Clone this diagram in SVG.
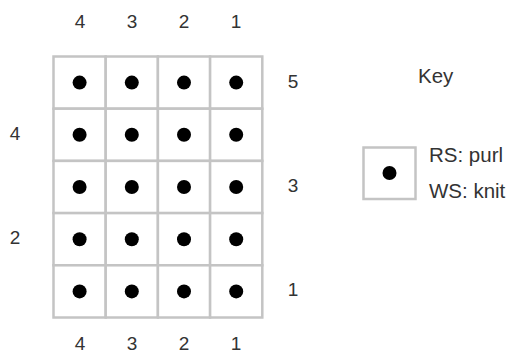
<svg xmlns="http://www.w3.org/2000/svg" width="511" height="356" viewBox="0 0 511 356">
<style>
.cell{fill:#fff;stroke:#c4c4c4;stroke-width:2.5}
.dot{fill:#000}
.t{font-family:"Liberation Sans",Arial,sans-serif;font-size:19px;fill:#333}
.k{font-size:20.5px}
.c{text-anchor:middle}
</style>
<defs>
<g id="st"><rect class="cell" x="0" y="0" width="52.2" height="52.2"/><circle class="dot" cx="26.1" cy="26.1" r="7"/></g>
</defs>
<rect width="511" height="356" fill="#fff"/>
<g id="chart">
<use href="#st" x="53.5" y="56.5"/><use href="#st" x="105.7" y="56.5"/><use href="#st" x="157.9" y="56.5"/><use href="#st" x="210.1" y="56.5"/>
<use href="#st" x="53.5" y="108.7"/><use href="#st" x="105.7" y="108.7"/><use href="#st" x="157.9" y="108.7"/><use href="#st" x="210.1" y="108.7"/>
<use href="#st" x="53.5" y="160.9"/><use href="#st" x="105.7" y="160.9"/><use href="#st" x="157.9" y="160.9"/><use href="#st" x="210.1" y="160.9"/>
<use href="#st" x="53.5" y="213.1"/><use href="#st" x="105.7" y="213.1"/><use href="#st" x="157.9" y="213.1"/><use href="#st" x="210.1" y="213.1"/>
<use href="#st" x="53.5" y="265.3"/><use href="#st" x="105.7" y="265.3"/><use href="#st" x="157.9" y="265.3"/><use href="#st" x="210.1" y="265.3"/>
</g>
<g id="top-labels" class="t c">
<text x="80" y="28">4</text><text x="132" y="28">3</text><text x="184" y="28">2</text><text x="236" y="28">1</text>
</g>
<g id="bottom-labels" class="t c">
<text x="80" y="350">4</text><text x="132" y="350">3</text><text x="184" y="350">2</text><text x="236" y="350">1</text>
</g>
<g id="left-labels" class="t c">
<text x="15" y="140">4</text><text x="15" y="244">2</text>
</g>
<g id="right-labels" class="t c">
<text x="293" y="88">5</text><text x="293" y="192">3</text><text x="293" y="296">1</text>
</g>
<g id="key">
<text class="t k" x="418" y="83">Key</text>
<rect class="cell" x="363.5" y="147.5" width="52" height="51.5"/>
<circle class="dot" cx="389.5" cy="173" r="7"/>
<text class="t k" x="429" y="162">RS: purl</text>
<text class="t k" x="429" y="198">WS: knit</text>
</g>
<g id="connectors"/>
</svg>
